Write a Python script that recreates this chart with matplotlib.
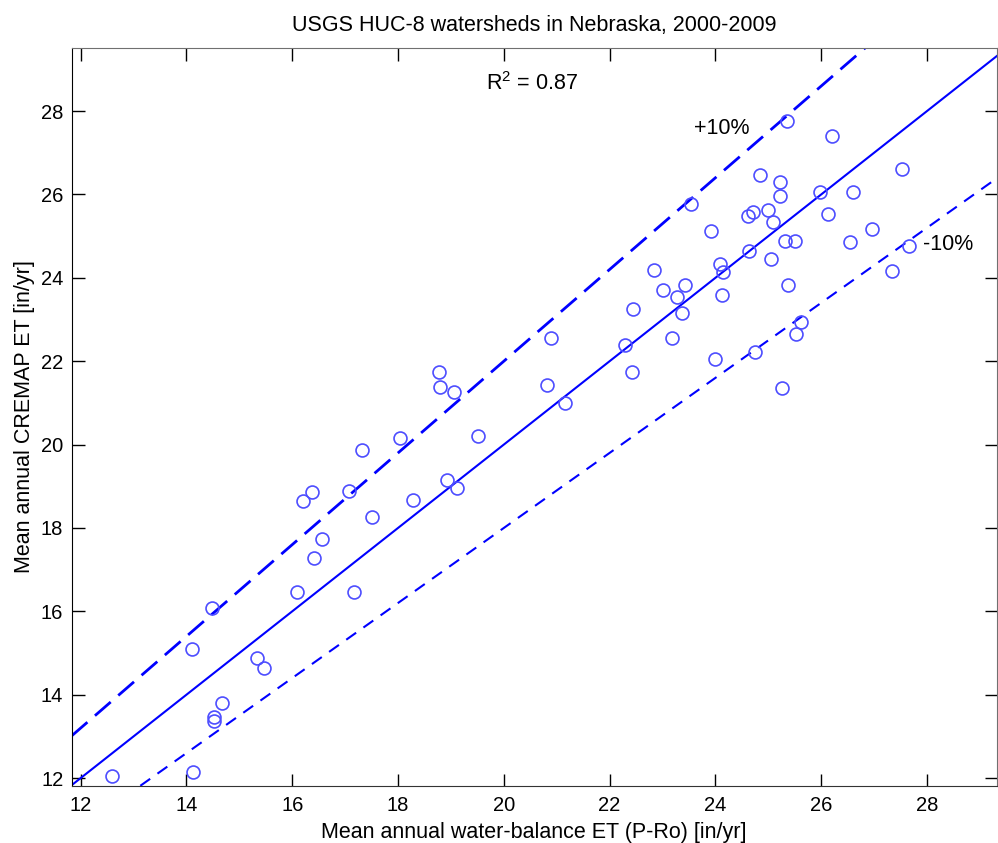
import numpy as np
import matplotlib
matplotlib.use("Agg")
import matplotlib.pyplot as plt

plt.rcParams["font.family"] = ["Liberation Sans", "DejaVu Sans"]
plt.rcParams["mathtext.fontset"] = "custom"
plt.rcParams["mathtext.rm"] = "Liberation Sans"

# water-balance ET (P-Ro) vs CREMAP ET, in/yr, one point per HUC-8 watershed
wb_et = [
    12.60, 14.12, 14.48, 14.11, 15.33, 15.46, 14.67, 14.52, 14.52, 16.42,
    16.09, 17.16, 17.31, 16.38, 16.20, 17.08, 16.57, 18.77, 18.79, 19.06,
    20.90, 20.82, 21.15, 22.30, 22.42, 18.03, 19.52, 18.92, 19.11, 18.29,
    17.50, 25.35, 26.20, 27.53, 24.85, 25.22, 25.22, 25.97, 26.60, 23.54,
    24.62, 24.72, 24.99, 25.08, 26.12, 23.92, 26.97, 25.32, 25.50, 26.55,
    27.66, 24.64, 25.06, 22.83, 24.09, 24.15, 27.34, 23.43, 23.01, 23.28,
    25.38, 24.13, 23.37, 22.44, 25.61, 25.52, 23.18, 23.99, 24.74, 25.25,
]
cremap_et = [
    12.04, 12.14, 16.09, 15.09, 14.88, 14.64, 13.80, 13.46, 13.36, 17.28,
    16.46, 16.46, 19.87, 18.86, 18.64, 18.88, 17.74, 21.75, 21.39, 21.25,
    22.56, 21.42, 21.00, 22.38, 21.74, 20.15, 20.21, 19.15, 18.96, 18.66,
    18.26, 27.77, 27.41, 26.61, 26.46, 26.29, 25.96, 26.05, 26.05, 25.76,
    25.48, 25.57, 25.63, 25.33, 25.54, 25.13, 25.17, 24.88, 24.88, 24.87,
    24.77, 24.65, 24.44, 24.19, 24.34, 24.13, 24.17, 23.82, 23.71, 23.55,
    23.83, 23.59, 23.16, 23.25, 22.93, 22.66, 22.55, 22.06, 22.21, 21.36,
]

ref_ratio = 1.0
upper_ratio = 1.1
lower_ratio = 0.9
r_squared = 0.87

x_lim = (11.83, 29.32)
y_lim = (11.81, 29.52)
ticks = [12, 14, 16, 18, 20, 22, 24, 26, 28]

fig = plt.figure(figsize=(9.98, 8.43), dpi=100)
ax = fig.add_axes([0.0718, 0.0676, 0.927, 0.8758])

xx = np.array(x_lim)
ax.plot(xx, ref_ratio * xx, color="blue", lw=1.5)
up, = ax.plot(xx, upper_ratio * xx, color="blue", lw=2.0)
up.set_dashes((7.5, 3.6))
lo, = ax.plot(xx, lower_ratio * xx, color="blue", lw=1.5)
lo.set_dashes((5.8, 4.3))
ax.plot(wb_et, cremap_et, "o", mfc="none", mec="#4d4dff", mew=1.2, ms=9.3)

ax.set_xlim(x_lim)
ax.set_ylim(y_lim)
ax.set_xticks(ticks)
ax.set_yticks(ticks)
ax.tick_params(direction="in", length=9, width=1, top=True, right=True,
               labelsize=14.5, colors="black")
ax.tick_params(axis="x", pad=7)
ax.tick_params(axis="y", pad=6)
ax.spines["left"].set_color("black")
ax.spines["bottom"].set_color("#333333")
ax.spines["top"].set_color("#707070")
ax.spines["right"].set_color("#707070")

ax.set_title("USGS HUC-8 watersheds in Nebraska, 2000-2009", fontsize=15.5, pad=12)
ax.set_xlabel("Mean annual water-balance ET (P-Ro) [in/yr]", fontsize=15.5, labelpad=5)
ax.set_ylabel("Mean annual CREMAP ET [in/yr]", fontsize=15.5, labelpad=4)

ax.text(19.67, 28.67, "R$^2$ = %.2f" % r_squared, fontsize=15.5, va="center")
ax.text(23.59, 27.59, "+10%", fontsize=15.5, va="center")
ax.text(27.93, 24.79, "-10%", fontsize=15.5, va="center")

fig.savefig("out.png", dpi=100)
